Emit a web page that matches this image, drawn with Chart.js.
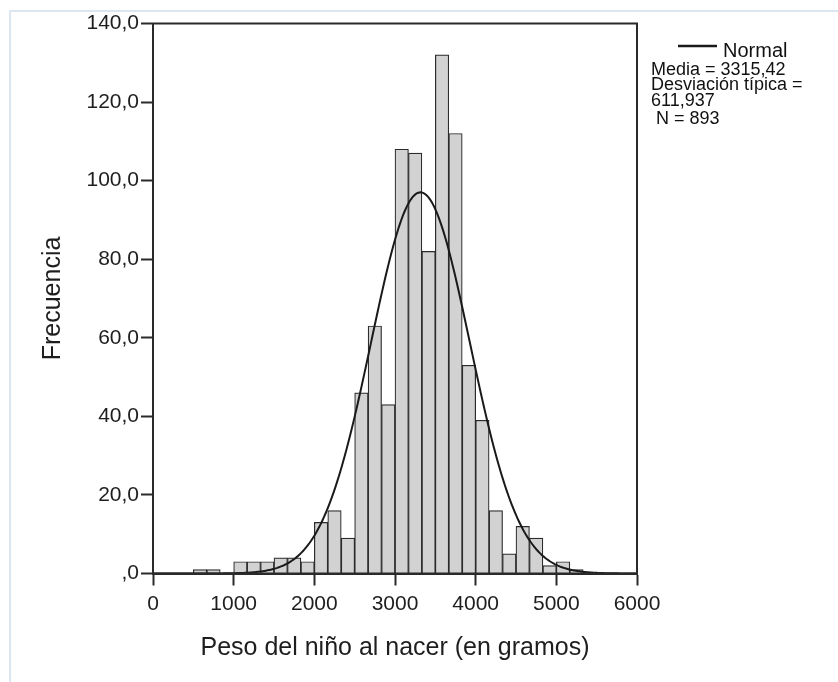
<!DOCTYPE html>
<html>
<head>
<meta charset="utf-8">
<script src="https://cdn.jsdelivr.net/npm/chart.js@4.4.1/dist/chart.umd.min.js"></script>
<style>
html, body { margin: 0; padding: 0; background: #fff; }
#marco { position: absolute; left: 9px; top: 10px; width: 829px; height: 672px; border-left: 2px solid #dce6f2; border-top: 2px solid #dce6f2; box-sizing: border-box; }
#grafica { position: absolute; left: 0; top: 0; }
</style>
</head>
<body>
<div id="marco"></div>
<canvas id="grafica" width="838" height="682"></canvas>
<script>
// frecuencias por intervalo de 166,67 g, desde 0 hasta 6000
const frecuencias = [null, null, null, 1, 1, null, 3, 3, 3, 4, 4, 3,
    13, 16, 9, 46, 63, 43, 108, 107, 82, 132, 112, 53,
    39, 16, 5, 12, 9, 2, 3, 1, null, null, null, null];
const inicioPeso = 0;
const anchoIntervalo = 6000 / 36;

const etiquetasX = ['0', '1000', '2000', '3000', '4000', '5000', '6000'];
const etiquetasY = [',0', '20,0', '40,0', '60,0', '80,0', '100,0', '120,0', '140,0'];

// parametros de la curva normal (leyenda)
const media = 3315.42;
const desviacion = 611.937;
const nTotal = 893;

Chart.defaults.font.family = "'Liberation Sans', Arial, sans-serif";
Chart.defaults.color = '#1e1e1e';

const barras = frecuencias.map((f, i) => ({ x: inicioPeso + (i + 0.5) * anchoIntervalo, y: f }));

const curvaNormal = [];
const escala = nTotal * anchoIntervalo / (desviacion * Math.sqrt(2 * Math.PI));
for (let x = 0; x <= 6000; x += 20) {
    const z = (x - media) / desviacion;
    curvaNormal.push({ x: x, y: escala * Math.exp(-0.5 * z * z) });
}

const fmt = (v, d) => v.toFixed(d).replace('.', ',');

const marcoPlugin = {
    id: 'marcoGrafica',
    afterDatasetsDraw(chart) {
        const { ctx, chartArea: a } = chart;
        ctx.save();
        ctx.strokeStyle = '#2a2a2a';
        ctx.lineWidth = 2;
        ctx.strokeRect(a.left, a.top, a.right - a.left, a.bottom - a.top);
        ctx.restore();
    }
};

const leyendaPlugin = {
    id: 'leyendaNormal',
    afterDraw(chart) {
        const ctx = chart.ctx;
        ctx.save();
        ctx.strokeStyle = '#1a1a1a';
        ctx.lineWidth = 2.5;
        ctx.beginPath();
        ctx.moveTo(678, 46);
        ctx.lineTo(717, 46);
        ctx.stroke();
        ctx.fillStyle = '#111';
        ctx.textBaseline = 'alphabetic';
        ctx.font = "20px 'Liberation Sans', Arial, sans-serif";
        ctx.fillText('Normal', 723, 57);
        ctx.font = "18px 'Liberation Sans', Arial, sans-serif";
        ctx.fillText('Media = ' + fmt(media, 2), 651, 75);
        ctx.fillText('Desviación típica =', 651, 90);
        ctx.fillText(fmt(desviacion, 3), 651, 106);
        ctx.fillText('N = ' + nTotal, 656, 124);
        ctx.restore();
    }
};

const ctx = document.getElementById('grafica').getContext('2d');

new Chart(ctx, {
    type: 'bar',
    data: {
        datasets: [
            {
                type: 'line',
                label: 'Normal',
                data: curvaNormal,
                borderColor: '#1a1a1a',
                borderWidth: 2,
                pointRadius: 0,
                tension: 0,
                order: 0
            },
            {
                type: 'bar',
                label: 'Frecuencia',
                data: barras,
                backgroundColor: '#d2d2d2',
                borderColor: '#2b2b2b',
                borderWidth: 1.2,
                barPercentage: 1,
                categoryPercentage: 1,
                order: 1
            }
        ]
    },
    options: {
        responsive: false,
        animation: false,
        layout: {
            padding: { top: 23.5, right: 201, left: 0, bottom: 0 }
        },
        plugins: {
            legend: { display: false },
            tooltip: { enabled: false }
        },
        scales: {
            x: {
                type: 'linear',
                min: 0,
                max: 6000,
                offset: false,
                afterFit: s => { s.height = 108.5; },
                ticks: {
                    stepSize: 1000,
                    autoSkip: false,
                    maxRotation: 0,
                    padding: 6,
                    font: { size: 21 },
                    callback: v => etiquetasX[Math.round(v / 1000)]
                },
                grid: { display: true, drawOnChartArea: false, drawTicks: true, tickLength: 12, color: '#2a2a2a', tickWidth: 2, offset: false },
                border: { display: true, color: '#2a2a2a', width: 2 },
                title: {
                    display: true,
                    text: 'Peso del niño al nacer (en gramos)',
                    font: { size: 25 },
                    padding: { top: 0, bottom: 19 }
                }
            },
            y: {
                min: 0,
                max: 140,
                afterFit: s => { s.width = 153; },
                ticks: {
                    stepSize: 20,
                    padding: 2,
                    font: { size: 21 },
                    callback: v => etiquetasY[Math.round(v / 20)]
                },
                grid: { display: true, drawOnChartArea: false, drawTicks: true, tickLength: 12, color: '#2a2a2a', tickWidth: 2 },
                border: { display: true, color: '#2a2a2a', width: 2 },
                title: {
                    display: true,
                    text: 'Frecuencia',
                    font: { size: 25 },
                    padding: { top: 38, bottom: 0 }
                }
            }
        }
    },
    plugins: [marcoPlugin, leyendaPlugin]
});
</script>
</body>
</html>
